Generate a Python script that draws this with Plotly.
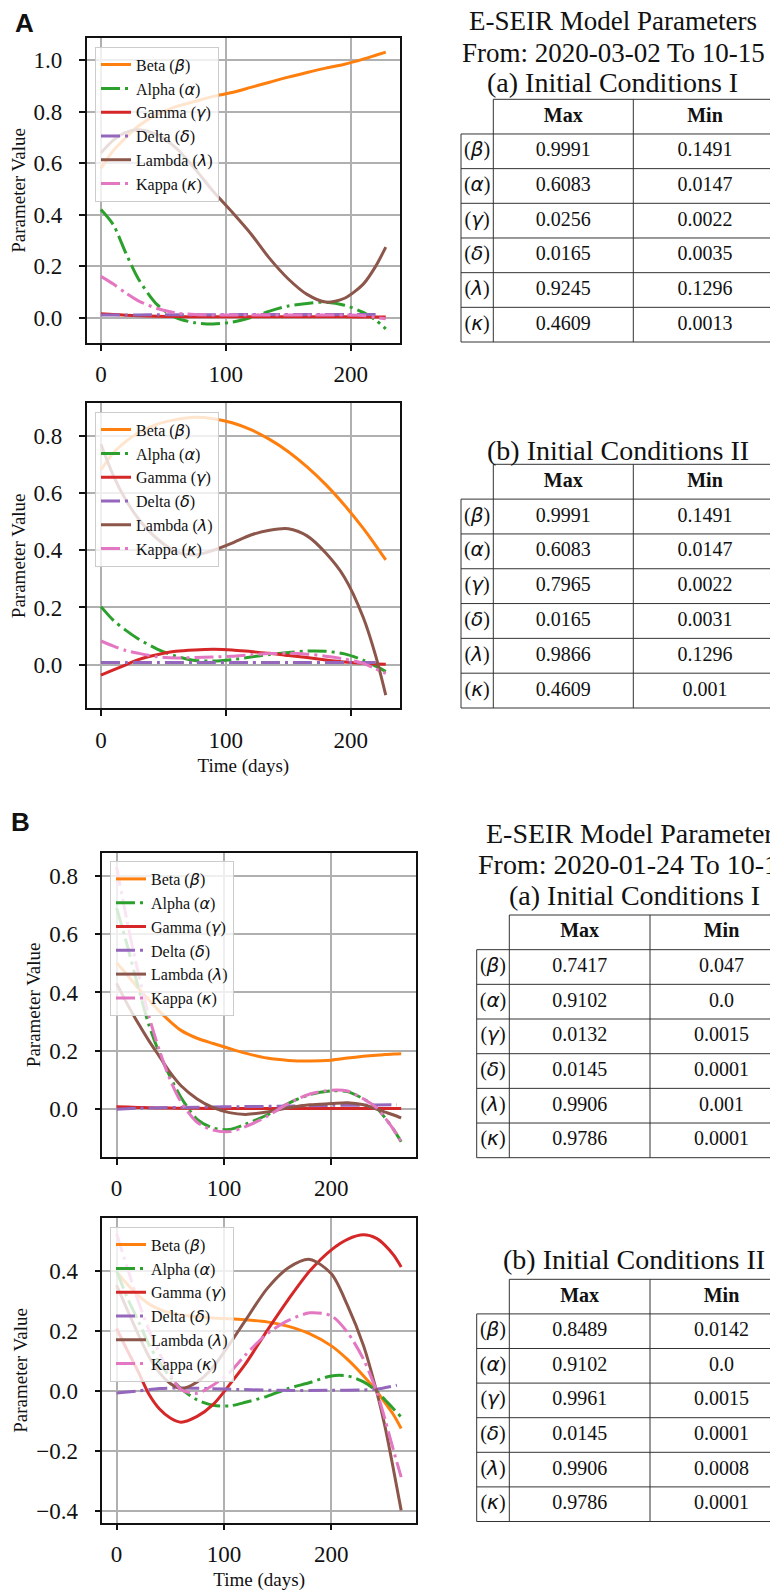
import plotly.graph_objects as go

W, H = 778, 1593
OFF = 8  # page body margin of the browser
FW, FH = W - OFF, H - OFF

# ---------------- data ----------------
series_names = ["Beta", "Alpha", "Gamma", "Delta", "Lambda", "Kappa"]
greek = ["β", "α", "γ", "δ", "λ", "κ"]
colors = ["#ff7f0e", "#2ca02c", "#d62728", "#9467bd", "#8c564b", "#e377c2"]
dashdot = "19px,5px,3px,5px"
dashes = ["solid", dashdot, "solid", dashdot, "solid", dashdot]

# Panel A (days 0..228)
tA = [0, 10, 20, 30, 45, 60, 75, 90, 105, 120, 135, 150, 165, 180, 195, 210, 220, 228]
tA_delta = [0, 10, 20, 30, 45, 60, 75, 90, 105, 120, 135, 150, 165, 180, 195, 210, 222]

A1_beta = [0.58, 0.65, 0.70, 0.745, 0.79, 0.82, 0.84, 0.86, 0.875, 0.895, 0.915, 0.935, 0.953, 0.97, 0.985, 1.005, 1.02, 1.032]
A1_alpha = [0.42, 0.36, 0.25, 0.15, 0.05, 0.0, -0.02, -0.025, -0.018, 0.0, 0.025, 0.045, 0.055, 0.06, 0.048, 0.02, -0.01, -0.044]
A1_gamma = [0.015, 0.012, 0.009, 0.007, 0.005, 0.004, 0.003, 0.003, 0.003, 0.003, 0.003, 0.003, 0.003, 0.003, 0.003, 0.002, 0.002, 0.002]
A1_delta = [0.01, 0.01, 0.01, 0.01, 0.011, 0.011, 0.011, 0.011, 0.011, 0.012, 0.012, 0.012, 0.012, 0.012, 0.012, 0.012, 0.012]
A1_lambda = [0.64, 0.69, 0.72, 0.73, 0.71, 0.66, 0.58, 0.49, 0.41, 0.326, 0.23, 0.15, 0.09, 0.06, 0.075, 0.13, 0.2, 0.274]
A1_kappa = [0.16, 0.13, 0.095, 0.065, 0.035, 0.018, 0.012, 0.01, 0.01, 0.01, 0.01, 0.01, 0.01, 0.01, 0.01, 0.008, 0.0, -0.005]

A2_beta = [0.68, 0.74, 0.78, 0.81, 0.84, 0.856, 0.864, 0.859, 0.845, 0.821, 0.787, 0.744, 0.691, 0.629, 0.557, 0.476, 0.416, 0.366]
A2_alpha = [0.203, 0.155, 0.12, 0.09, 0.055, 0.03, 0.015, 0.013, 0.018, 0.027, 0.036, 0.043, 0.048, 0.047, 0.038, 0.016, -0.005, -0.024]
A2_gamma = [-0.036, -0.018, 0.0, 0.018, 0.035, 0.047, 0.052, 0.054, 0.052, 0.046, 0.04, 0.032, 0.025, 0.017, 0.01, 0.005, 0.003, 0.002]
A2_delta = [0.008, 0.008, 0.008, 0.008, 0.008, 0.008, 0.008, 0.008, 0.008, 0.008, 0.008, 0.008, 0.008, 0.008, 0.008, 0.008, 0.008]
A2_lambda = [0.77, 0.66, 0.575, 0.51, 0.44, 0.395, 0.383, 0.40, 0.425, 0.453, 0.47, 0.475, 0.45, 0.39, 0.305, 0.165, 0.03, -0.106]
A2_kappa = [0.083, 0.065, 0.05, 0.04, 0.028, 0.024, 0.025, 0.027, 0.03, 0.035, 0.039, 0.04, 0.037, 0.03, 0.02, 0.005, -0.015, -0.03]

# Panel B (days 0..265)
tB = [0, 10, 20, 30, 40, 50, 60, 75, 90, 105, 120, 140, 160, 180, 200, 215, 230, 242, 250, 258, 265]
tB_delta = [0, 20, 40, 60, 100, 150, 200, 240, 261]

B1_beta = [0.502, 0.46, 0.415, 0.375, 0.335, 0.30, 0.27, 0.243, 0.225, 0.208, 0.192, 0.175, 0.167, 0.165, 0.168, 0.175, 0.181, 0.185, 0.187, 0.189, 0.19]
B1_alpha = [0.69, 0.56, 0.42, 0.29, 0.19, 0.11, 0.04, -0.035, -0.065, -0.07, -0.052, -0.02, 0.02, 0.05, 0.063, 0.06, 0.035, 0.005, -0.03, -0.07, -0.112]
B1_gamma = [0.008, 0.007, 0.006, 0.005, 0.004, 0.004, 0.003, 0.003, 0.002, 0.002, 0.002, 0.002, 0.002, 0.002, 0.002, 0.002, 0.002, 0.002, 0.002, 0.002, 0.002]
B1_delta = [0.0, 0.003, 0.005, 0.006, 0.008, 0.01, 0.013, 0.014, 0.015]
B1_lambda = [0.431, 0.36, 0.295, 0.235, 0.18, 0.125, 0.08, 0.035, 0.005, -0.012, -0.018, -0.01, 0.005, 0.015, 0.019, 0.022, 0.015, 0.0, -0.01, -0.02, -0.03]
B1_kappa = [0.83, 0.64, 0.47, 0.32, 0.2, 0.1, 0.025, -0.045, -0.072, -0.077, -0.06, -0.025, 0.02, 0.052, 0.065, 0.062, 0.035, 0.005, -0.03, -0.07, -0.112]

B2_beta = [0.397, 0.355, 0.318, 0.29, 0.272, 0.26, 0.253, 0.247, 0.243, 0.24, 0.237, 0.23, 0.215, 0.19, 0.15, 0.105, 0.05, 0.0, -0.04, -0.08, -0.125]
B2_alpha = [0.40, 0.31, 0.235, 0.155, 0.095, 0.045, 0.008, -0.03, -0.048, -0.05, -0.038, -0.018, 0.008, 0.028, 0.05, 0.05, 0.03, 0.0, -0.03, -0.06, -0.087]
B2_gamma = [0.208, 0.135, 0.065, -0.01, -0.06, -0.09, -0.104, -0.085, -0.045, 0.02, 0.09, 0.2, 0.305, 0.40, 0.47, 0.505, 0.52, 0.508, 0.485, 0.452, 0.413]
B2_delta = [-0.007, 0.0, 0.008, 0.01, 0.006, 0.002, 0.002, 0.005, 0.019]
B2_lambda = [0.352, 0.27, 0.19, 0.115, 0.06, 0.025, 0.008, 0.03, 0.08, 0.155, 0.235, 0.34, 0.41, 0.438, 0.39, 0.285, 0.15, 0.0, -0.12, -0.265, -0.398]
B2_kappa = [0.524, 0.41, 0.30, 0.205, 0.125, 0.055, 0.005, -0.008, 0.02, 0.06, 0.12, 0.19, 0.235, 0.26, 0.25, 0.195, 0.105, 0.0, -0.095, -0.2, -0.287]

# Tables
row_params = greek
col_headers = ["Max", "Min"]
A_a_max = ["0.9991", "0.6083", "0.0256", "0.0165", "0.9245", "0.4609"]
A_a_min = ["0.1491", "0.0147", "0.0022", "0.0035", "0.1296", "0.0013"]
A_b_max = ["0.9991", "0.6083", "0.7965", "0.0165", "0.9866", "0.4609"]
A_b_min = ["0.1491", "0.0147", "0.0022", "0.0031", "0.1296", "0.001"]
B_a_max = ["0.7417", "0.9102", "0.0132", "0.0145", "0.9906", "0.9786"]
B_a_min = ["0.047", "0.0", "0.0015", "0.0001", "0.001", "0.0001"]
B_b_max = ["0.8489", "0.9102", "0.9961", "0.0145", "0.9906", "0.9786"]
B_b_min = ["0.0142", "0.0", "0.0015", "0.0001", "0.0008", "0.0001"]

title_A = ["E-SEIR Model Parameters", "From: 2020-03-02 To 10-15"]
title_B = ["E-SEIR Model Parameters", "From: 2020-01-24 To 10-15"]
sub_a = "(a) Initial Conditions I"
sub_b = "(b) Initial Conditions II"

# ---------------- helpers ----------------
SERIF = "Liberation Serif"
GK = '<i><span style="font-family:DejaVu Sans">{}</span></i>'
INK = "#111"


def px_x(p):
    return (p - OFF) / FW


def px_y(p):
    return 1 - (p - OFF) / FH


fig = go.Figure()
shapes = []
annotations = []

panels = [
    dict(t=tA, td=tA_delta, data=[A1_beta, A1_alpha, A1_gamma, A1_delta, A1_lambda, A1_kappa],
         ax="", legend="legend"),
    dict(t=tA, td=tA_delta, data=[A2_beta, A2_alpha, A2_gamma, A2_delta, A2_lambda, A2_kappa],
         ax="2", legend="legend2"),
    dict(t=tB, td=tB_delta, data=[B1_beta, B1_alpha, B1_gamma, B1_delta, B1_lambda, B1_kappa],
         ax="3", legend="legend3"),
    dict(t=tB, td=tB_delta, data=[B2_beta, B2_alpha, B2_gamma, B2_delta, B2_lambda, B2_kappa],
         ax="4", legend="legend4"),
]

for p in panels:
    for i, name in enumerate(series_names):
        tt = p["td"] if name == "Delta" else p["t"]
        fig.add_trace(go.Scatter(
            x=tt, y=p["data"][i], mode="lines",
            name=f"{name} (" + GK.format(greek[i]) + ")",
            line=dict(color=colors[i], width=3, dash=dashes[i], shape="spline", smoothing=0.8),
            xaxis="x" + p["ax"], yaxis="y" + p["ax"], legend=p["legend"],
            hoverinfo="skip",
        ))

# axes geometry (reference pixels)
axes_geom = {
    "": dict(x=(86.7, 400), y=(38, 343), xr=[-11.4, 239.4], yr=[-0.099, 1.087], xt=False),
    "2": dict(x=(86.7, 400), y=(403.3, 708.3), xr=[-11.4, 239.4], yr=[-0.152, 0.913], xt=True),
    "3": dict(x=(102.3, 416), y=(852.7, 1157), xr=[-13.3, 278.8], yr=[-0.164, 0.879], xt=False),
    "4": dict(x=(102.3, 416), y=(1218.3, 1522.7), xr=[-13.3, 278.8], yr=[-0.439, 0.575], xt=True),
}

common = dict(showgrid=True, gridcolor="#b0b0b0", gridwidth=1.8, showline=True, mirror=True,
              linecolor=INK, linewidth=1.5, ticks="outside", ticklen=6, tickwidth=1.5,
              tickcolor=INK, zeroline=False,
              tickfont=dict(family=SERIF, size=23, color=INK))

layout_axes = {}
for k, g in axes_geom.items():
    xa = dict(common, domain=[px_x(g["x"][0]), px_x(g["x"][1])], range=g["xr"],
              tickvals=[0, 100, 200], anchor="y" + k, ticklabelstandoff=4)
    if g["xt"]:
        xa["title"] = dict(text="Time (days)", font=dict(family=SERIF, size=19, color=INK), standoff=7)
    ya = dict(common, domain=[px_y(g["y"][1]), px_y(g["y"][0])], range=g["yr"],
              tick0=0, dtick=0.2, tickformat=".1f", anchor="x" + k, ticklabelstandoff=12,
              title=dict(text="Parameter Value", font=dict(family=SERIF, size=19, color=INK), standoff=4))
    layout_axes["xaxis" + k] = xa
    layout_axes["yaxis" + k] = ya

legend_pos = {"legend": (95, 46.7), "legend2": (95, 411.7), "legend3": (110, 861), "legend4": (110, 1226.7)}
layout_legends = {}
for k, (lx, ly) in legend_pos.items():
    layout_legends[k] = dict(x=px_x(lx), y=px_y(ly), xanchor="left", yanchor="top",
                             bgcolor="rgba(255,255,255,0.8)", bordercolor="#cccccc", borderwidth=1,
                             font=dict(family=SERIF, size=16, color=INK), tracegroupgap=0)

# ---------------- tables (text on hidden axes, borders as axis-referenced shapes) ----------------
labels_col = ["(" + GK.format(g) + ")" for g in row_params]
N_ROWS = 7  # header + 6 parameters
PAD = 2.0   # px of breathing room around the grid so border lines are not clipped
BORDER = "#333"


def add_table(ax, left, top, bottom, col_w, mx, mn):
    # col_w: pixel widths of [label, Max, Min] columns
    e0, e1, e2, e3 = 0.0, col_w[0], col_w[0] + col_w[1], col_w[0] + col_w[1] + col_w[2]
    right = min(left + e3 + PAD, W)
    row_h = (bottom - top) / N_ROWS
    pad_r = PAD / row_h
    layout_axes["xaxis" + ax] = dict(domain=[px_x(left - PAD), min(px_x(right), 1.0)],
                                     range=[-PAD, right - left],
                                     visible=False, anchor="y" + ax, fixedrange=True)
    layout_axes["yaxis" + ax] = dict(domain=[px_y(bottom + PAD), px_y(top - PAD)],
                                     range=[N_ROWS + pad_r, -pad_r], visible=False,
                                     anchor="x" + ax, fixedrange=True)
    xr, yr = "x" + ax, "y" + ax
    rows = [r + 0.5 for r in range(1, N_ROWS)]
    c_lab, c_max, c_min = (e0 + e1) / 2, (e1 + e2) / 2, (e2 + e3) / 2
    tf = dict(family=SERIF, size=20, color=INK)
    fig.add_trace(go.Scatter(x=[c_max, c_min], y=[0.5, 0.5], mode="text",
                             text=["<b>%s</b>" % h for h in col_headers], textfont=tf,
                             xaxis=xr, yaxis=yr, showlegend=False, hoverinfo="skip", cliponaxis=False))
    fig.add_trace(go.Scatter(x=[c_lab] * len(rows), y=rows, mode="text", text=labels_col, textfont=tf,
                             xaxis=xr, yaxis=yr, showlegend=False, hoverinfo="skip", cliponaxis=False))
    fig.add_trace(go.Scatter(x=[c_max] * len(rows), y=rows, mode="text", text=mx, textfont=tf,
                             xaxis=xr, yaxis=yr, showlegend=False, hoverinfo="skip", cliponaxis=False))
    fig.add_trace(go.Scatter(x=[c_min] * len(rows), y=rows, mode="text", text=mn, textfont=tf,
                             xaxis=xr, yaxis=yr, showlegend=False, hoverinfo="skip", cliponaxis=False))
    ln = dict(color=BORDER, width=1)
    shapes.append(dict(type="line", xref=xr, yref=yr, x0=e1, x1=e3, y0=0, y1=0, line=ln))
    for r in range(1, N_ROWS + 1):
        shapes.append(dict(type="line", xref=xr, yref=yr, x0=e0, x1=e3, y0=r, y1=r, line=ln))
    shapes.append(dict(type="line", xref=xr, yref=yr, x0=e0, x1=e0, y0=1, y1=N_ROWS, line=ln))
    for e in (e1, e2, e3):
        shapes.append(dict(type="line", xref=xr, yref=yr, x0=e, x1=e, y0=0, y1=N_ROWS, line=ln))


add_table("5", 461, 99.3, 342.0, [32.3, 140, 143.4], A_a_max, A_a_min)
add_table("6", 461, 464.3, 708.0, [32.3, 140, 143.4], A_b_max, A_b_min)
add_table("7", 476.7, 915, 1157.7, [32.6, 140.7, 143.0], B_a_max, B_a_min)
add_table("8", 476.7, 1279.3, 1521.5, [32.6, 140.7, 143.0], B_b_max, B_b_min)


def txt(text, x, y, size=28, family=SERIF, bold=False):
    annotations.append(dict(text=("<b>%s</b>" % text) if bold else text, x=px_x(x), y=px_y(y),
                            xref="paper", yref="paper", xanchor="center", yanchor="middle",
                            showarrow=False, font=dict(family=family, size=size, color=INK)))


txt(title_A[0], 613, 20.7, size=27)
txt(title_A[1], 613, 52.7, size=27)
txt(sub_a, 612, 82.7)
txt(sub_b, 618, 450)
txt(title_B[0], 635, 833)
txt(title_B[1], 635, 865)
txt(sub_a, 634, 895)
txt(sub_b, 634, 1259)
txt("A", 24, 23, size=26, family="Liberation Sans", bold=True)
txt("B", 21, 822, size=26, family="Liberation Sans", bold=True)

fig.update_layout(
    width=FW, height=FH, margin=dict(l=0, r=0, t=0, b=0),
    paper_bgcolor="white", plot_bgcolor="white",
    showlegend=True, annotations=annotations, shapes=shapes,
    **layout_axes, **layout_legends,
)

fig.write_html("out.html")
